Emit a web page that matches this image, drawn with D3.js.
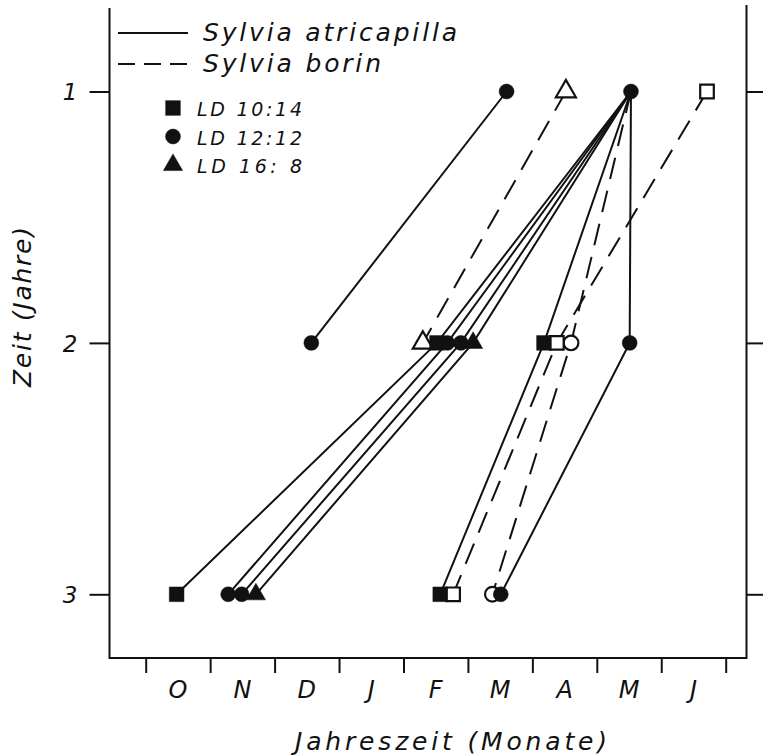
<!DOCTYPE html>
<html>
<head>
<meta charset="utf-8">
<script src="https://cdn.jsdelivr.net/npm/d3@7"></script>
<style>
  body { margin: 0; background: #fff; }
  text { font-family: "DejaVu Sans", sans-serif; font-style: italic; fill: #111; }
</style>
</head>
<body>
<div id="chart"></div>
<script>
// month labels, Oct .. Jun (label i sits between tick i and i+1)
const monthLabels = ["O", "N", "D", "J", "F", "M", "A", "M", "J"];
const yearTicks = [1, 2, 3];
const speciesNames = ["Sylvia atricapilla", "Sylvia borin"];
const ldNames = ["LD 10:14", "LD 12:12", "LD 16: 8"];

// one entry per bird: species (0 atricapilla, 1 borin), photoperiod, months since 1 Oct in year 1, 2, 3
const birdSpecies = [0, 0, 0, 0, 0, 0, 0, 1, 1, 1];
const birdLD = [1, 0, 1, 1, 2, 0, 1, 2, 0, 1];
const birdMonths = [
  [5.60, 2.57],
  [7.53, 4.52, 0.48],
  [7.53, 4.68, 1.28],
  [7.53, 4.89, 1.49],
  [7.53, 5.08, 1.71],
  [7.53, 6.18, 4.57],
  [7.53, 7.51, 5.51],
  [6.52, 4.30],
  [8.71, 6.38, 4.77],
  [7.53, 6.60, 5.38]
];

const width = 763, height = 756;
const left = 109.5, right = 746.5, bottom = 658;

const svg = d3.select("#chart").append("svg")
  .attr("width", width).attr("height", height);

const x = d3.scaleLinear().domain([0, 9]).range([145.7, 725.7]);
const y = d3.scaleLinear().domain([1, 3]).range([91.5, 594.3]);

const ink = "#111";

// frame (open at the top)
svg.append("path")
  .attr("d", `M${left},8 V${bottom} H${right} V5`)
  .attr("fill", "none").attr("stroke", ink).attr("stroke-width", 2);

// bottom ticks
const xAxis = svg.append("g")
  .attr("transform", `translate(0,${bottom})`)
  .call(d3.axisBottom(x).tickValues(d3.range(10)).tickSize(15).tickFormat(""));
xAxis.select(".domain").remove();
xAxis.selectAll("line").attr("stroke", ink).attr("stroke-width", 2);

svg.append("g").selectAll("text").data(monthLabels).join("text")
  .attr("x", (d, i) => x(i + 0.5))
  .attr("y", 698)
  .attr("text-anchor", "middle")
  .attr("font-size", 24)
  .text(d => d);

// left ticks with year labels
const yAxis = svg.append("g")
  .attr("transform", `translate(${left},0)`)
  .call(d3.axisLeft(y).tickValues(yearTicks).tickSize(20).tickPadding(12).tickFormat(d3.format("d")));
yAxis.select(".domain").remove();
yAxis.selectAll("line").attr("stroke", ink).attr("stroke-width", 2);
yAxis.selectAll("text")
  .attr("font-size", 23).attr("font-family", null).attr("fill", ink)
  .attr("dy", "0.36em");

// right ticks
const yAxisR = svg.append("g")
  .attr("transform", `translate(${right},0)`)
  .call(d3.axisRight(y).tickValues(yearTicks).tickSize(18).tickFormat(""));
yAxisR.select(".domain").remove();
yAxisR.selectAll("line").attr("stroke", ink).attr("stroke-width", 2);

// axis titles
svg.append("text")
  .attr("x", 451).attr("y", 750)
  .attr("text-anchor", "middle")
  .attr("font-size", 25)
  .attr("textLength", 312).attr("lengthAdjust", "spacing")
  .text("Jahreszeit (Monate)");

svg.append("text")
  .attr("transform", "translate(31,307) rotate(-90)")
  .attr("text-anchor", "middle")
  .attr("font-size", 25)
  .attr("textLength", 160).attr("lengthAdjust", "spacing")
  .text("Zeit (Jahre)");

// bird lines
const dashes = ["none", "22,12"];
const line = d3.line().x(d => x(d[0])).y(d => y(d[1]));
const birds = birdMonths.map((m, i) => ({
  i, species: birdSpecies[i], ld: birdLD[i],
  pts: m.map((v, k) => [v, k + 1])
}));

svg.append("g").selectAll("path").data(birds).join("path")
  .attr("d", d => line(d.pts))
  .attr("fill", "none")
  .attr("stroke", ink)
  .attr("stroke-width", 2)
  .attr("stroke-dasharray", d => dashes[d.species]);

// markers
const shapes = [d3.symbolSquare, d3.symbolCircle, d3.symbolTriangle];
const sizes = [215, 175, 160];
const openSizes = [185, 170, 175];

function marker(g, ld, filled, scale = 1) {
  g.append("path")
    .attr("d", d3.symbol().type(shapes[ld]).size((filled ? sizes[ld] : openSizes[ld]) * scale)())
    .attr("fill", filled ? ink : "#fff")
    .attr("stroke", ink)
    .attr("stroke-width", filled ? 0.5 : 2.2);
}

// points shared by several birds in year 1 are drawn once as a filled circle
const startCount = d3.rollup(birds, v => v.length, d => d.pts[0][0]);

const marks = [];
birds.forEach(b => b.pts.forEach((p, k) => {
  if (k === 0 && startCount.get(p[0]) > 1) return;
  marks.push({ p, ld: b.ld, filled: b.species === 0 });
}));
startCount.forEach((n, m) => { if (n > 1) marks.push({ p: [m, 1], ld: 1, filled: true }); });

// open (borin) marks first, circles under squares, filled marks on top
marks.sort((a, b) => (a.filled - b.filled) || (b.ld - a.ld));

const mg = svg.append("g");
marks.forEach(d => {
  const g = mg.append("g").attr("transform", `translate(${x(d.p[0])},${y(d.p[1])})`);
  marker(g, d.ld, d.filled);
});

// legend
const leg = svg.append("g");
speciesNames.forEach((name, i) => {
  const ly = 33 + i * 31;
  leg.append("line")
    .attr("x1", 118).attr("x2", 188).attr("y1", ly).attr("y2", ly)
    .attr("stroke", ink).attr("stroke-width", 2)
    .attr("stroke-dasharray", i === 0 ? "none" : "17,9");
  leg.append("text")
    .attr("x", 203).attr("y", ly + 8)
    .attr("font-size", 25)
    .attr("textLength", i === 0 ? 254 : 178).attr("lengthAdjust", "spacing")
    .text(name);
});

ldNames.forEach((name, i) => {
  const ly = 108 + i * 28.5;
  const g = leg.append("g").attr("transform", `translate(173,${ly})`);
  marker(g, i, true, 1.0);
  leg.append("text")
    .attr("x", 197).attr("y", ly + 8)
    .attr("font-size", 19)
    .attr("textLength", 105).attr("lengthAdjust", "spacing")
    .text(name);
});
</script>
</body>
</html>
